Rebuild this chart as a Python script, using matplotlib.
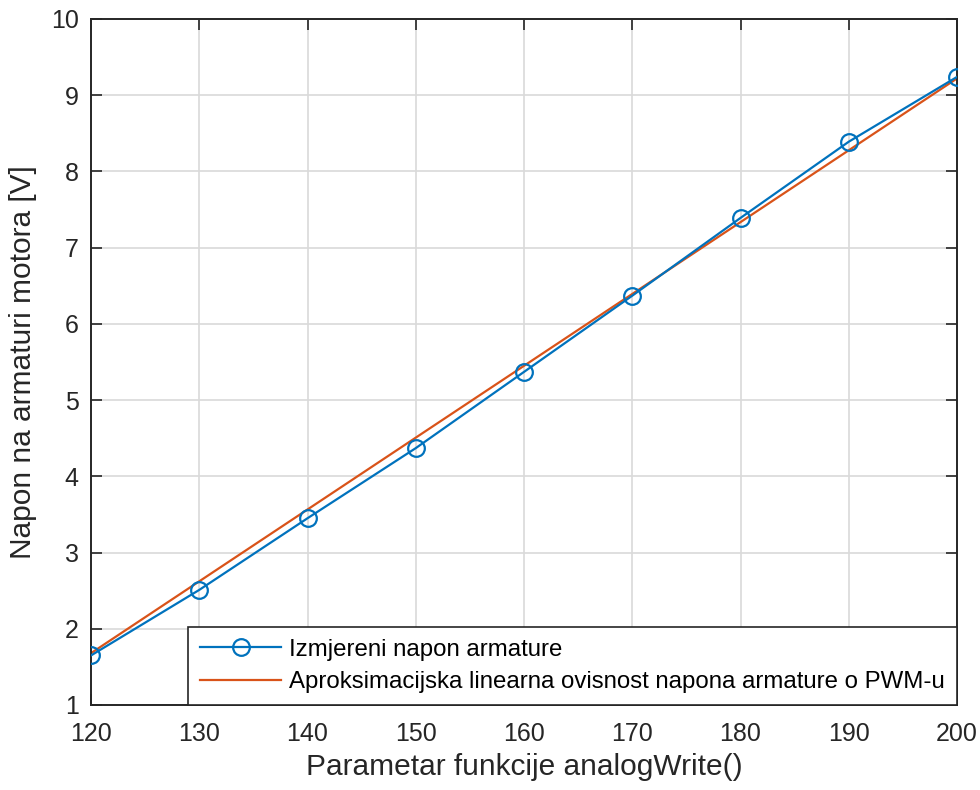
import matplotlib.pyplot as plt

# measured armature voltage vs analogWrite() parameter
pwm = [120, 130, 140, 150, 160, 170, 180, 190, 200]
napon = [1.65, 2.51, 3.45, 4.37, 5.37, 6.37, 7.39, 8.39, 9.24]

# linear approximation (endpoints)
fit_x = [120, 200]
fit_y = [1.68, 9.22]

x_ticks = [120, 130, 140, 150, 160, 170, 180, 190, 200]
y_ticks = [1, 2, 3, 4, 5, 6, 7, 8, 9, 10]

plt.rcParams["font.family"] = ["Liberation Sans", "DejaVu Sans"]
text_col = "#262626"

fig = plt.figure(figsize=(9.8, 7.9), dpi=100)
ax = fig.add_axes([91 / 980, 1 - 705 / 790, (957 - 91) / 980, (705 - 19) / 790])

ax.plot(pwm, napon, color="#0072BD", lw=1.6, marker="o", ms=12,
        mfc="none", mew=1.6, label="Izmjereni napon armature", zorder=3)
ax.plot(fit_x, fit_y, color="#D95319", lw=1.6,
        label="Aproksimacijska linearna ovisnost napona armature o PWM-u", zorder=2)

ax.set_xlim(120, 200)
ax.set_ylim(1, 10)
ax.set_xticks(x_ticks)
ax.set_yticks(y_ticks)
ax.grid(True, color="#d9d9d9", lw=1.2)
ax.set_axisbelow(True)
ax.tick_params(direction="in", length=8, width=1.2, top=True, right=True,
               labelsize=18, colors=text_col)
ax.tick_params(axis="x", pad=12)
ax.tick_params(axis="y", pad=9)
for s in ax.spines.values():
    s.set_color(text_col)
    s.set_linewidth(1.4)

ax.set_xlabel("Parametar funkcije analogWrite()", fontsize=21.5, color=text_col, labelpad=5)
ax.set_ylabel("Napon na armaturi motora [V]", fontsize=21.5, color=text_col, labelpad=10)

leg = ax.legend(loc="lower right", bbox_to_anchor=(1.0, 0.0), fontsize=17.3,
                fancybox=False, framealpha=1, edgecolor="#262626",
                handlelength=3.35, handletextpad=0.35, borderaxespad=0.0,
                borderpad=0.5, labelspacing=0.42)
leg.get_frame().set_linewidth(1.2)
for t in leg.get_texts():
    t.set_color("black")

fig.savefig("out.png", dpi=100)
